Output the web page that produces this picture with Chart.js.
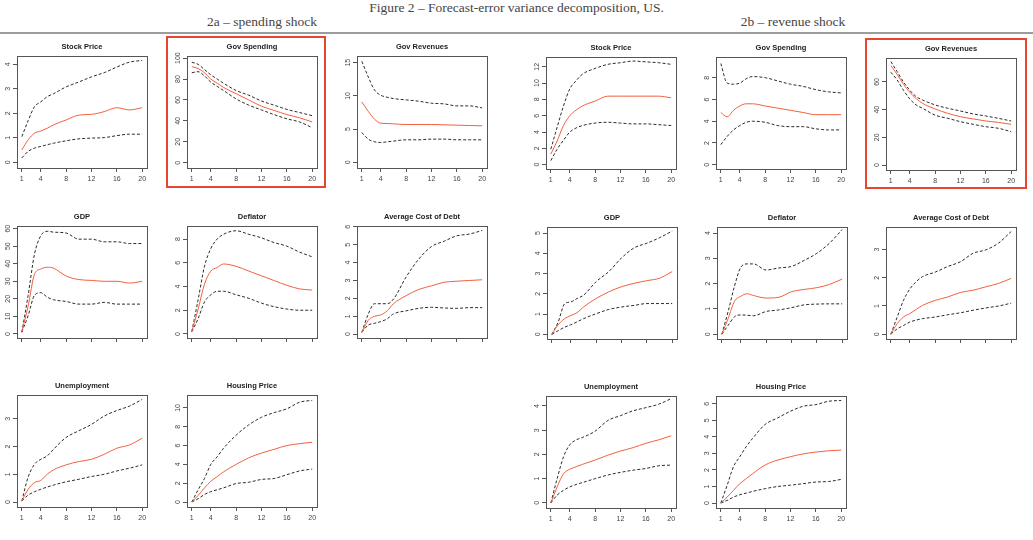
<!DOCTYPE html>
<html>
<head>
<meta charset="utf-8">
<script src="https://cdn.jsdelivr.net/npm/chart.js@4.4.1/dist/chart.umd.min.js"></script>
<style>
  body { margin: 0; background: #fff; width: 1033px; height: 540px; position: relative; overflow: hidden;
         font-family: "Liberation Serif", "Times New Roman", serif; color: #444; }
  .hd { position: absolute; text-align: center; font-size: 13.5px; line-height: 14px; white-space: nowrap; }
  #rule { position: absolute; left: 0; top: 32px; width: 1033px; height: 2px; background: #9c9c9c; }
  canvas { position: absolute; }
  .frame { position: absolute; border: 2px solid #e8452f; box-sizing: border-box; }
</style>
</head>
<body>
<div class="hd" style="left:0;width:1033px;top:1px">Figure 2 – Forecast-error variance decomposition, US.</div>
<div class="hd" style="left:162px;width:200px;top:15px">2a – spending shock</div>
<div class="hd" style="left:693px;width:200px;top:15px">2b – revenue shock</div>
<div id="rule"></div>
<div id="panels"></div>
<div class="frame" style="left:166px;top:36px;width:160px;height:152px"></div>
<div class="frame" style="left:865px;top:38px;width:162px;height:151px"></div>

<script>
// horizons (quarters) where values were read, and x tick labels
const horizons = [1, 2, 3, 4, 5, 6, 8, 10, 12, 14, 16, 18, 20];
const xTicks = [1, 4, 8, 12, 16, 20];

// ---- 2a spending shock ----
const aStockHi  = [1.05, 1.7, 2.27, 2.47, 2.68, 2.8, 3.08, 3.28, 3.49, 3.66, 3.89, 4.09, 4.16];
const aStockMid = [0.51, 0.92, 1.19, 1.28, 1.39, 1.53, 1.73, 1.93, 1.96, 2.07, 2.23, 2.14, 2.23];
const aStockLo  = [0.18, 0.45, 0.58, 0.65, 0.72, 0.78, 0.88, 0.96, 0.99, 1.01, 1.09, 1.15, 1.15];
const aStockTicks = [0, 1, 2, 3, 4];

const aSpendHi  = [96, 94, 89, 84, 80, 76, 69, 64.5, 59, 55, 51, 48, 45];
const aSpendMid = [91.8, 90, 86, 80, 76, 72, 66, 60, 54, 50, 46, 43, 39];
const aSpendLo  = [86, 87, 83, 77, 73, 69, 61, 55, 50.5, 46, 42, 39, 33.5];
const aSpendTicks = [0, 20, 40, 60, 80, 100];

const aRevHi  = [15.2, 12.9, 10.9, 10.1, 9.8, 9.6, 9.4, 9.2, 8.9, 8.8, 8.5, 8.5, 8.2];
const aRevMid = [9.1, 7.7, 6.5, 5.9, 5.85, 5.8, 5.7, 5.7, 5.7, 5.65, 5.6, 5.55, 5.5];
const aRevLo  = [4.5, 3.5, 3.1, 3.0, 3.1, 3.2, 3.4, 3.4, 3.5, 3.5, 3.4, 3.4, 3.4];
const aRevTicks = [0, 5, 10, 15];

const aGdpHi  = [1, 22, 45.5, 56, 58.5, 58, 57.5, 54, 54, 52.5, 52.5, 51.5, 51.5];
const aGdpMid = [1, 16, 34, 37, 38, 37.5, 33, 31, 30.5, 30, 30, 29, 30];
const aGdpLo  = [1, 10.5, 22, 23.5, 21, 19.5, 18.5, 17, 17, 18, 17, 17, 17];
const aGdpTicks = [0, 10, 20, 30, 40, 50, 60];

const aDefHi  = [0.2, 2.9, 5.7, 7.2, 8.0, 8.4, 8.7, 8.4, 8.1, 7.7, 7.4, 6.9, 6.5];
const aDefMid = [0.2, 2.1, 4.2, 5.3, 5.6, 5.9, 5.7, 5.3, 4.9, 4.5, 4.1, 3.8, 3.7];
const aDefLo  = [0.2, 1.3, 2.7, 3.3, 3.6, 3.6, 3.3, 3.0, 2.6, 2.3, 2.1, 2.0, 2.0];
const aDefTicks = [0, 2, 4, 6, 8];

const aDebtHi  = [0.1, 1.1, 1.7, 1.7, 1.7, 1.96, 3.2, 4.2, 4.9, 5.2, 5.5, 5.6, 5.8];
const aDebtMid = [0.1, 0.76, 1.0, 1.07, 1.3, 1.7, 2.15, 2.5, 2.7, 2.9, 2.96, 3.0, 3.04];
const aDebtLo  = [0.1, 0.5, 0.6, 0.7, 0.85, 1.13, 1.3, 1.44, 1.5, 1.46, 1.44, 1.48, 1.48];
const aDebtTicks = [0, 1, 2, 3, 4, 5, 6];

const aUnempHi  = [0.04, 0.9, 1.36, 1.54, 1.66, 1.9, 2.33, 2.57, 2.8, 3.1, 3.3, 3.46, 3.7];
const aUnempMid = [0.04, 0.46, 0.7, 0.78, 1.0, 1.16, 1.34, 1.46, 1.54, 1.72, 1.94, 2.06, 2.3];
const aUnempLo  = [0.04, 0.25, 0.37, 0.46, 0.54, 0.61, 0.73, 0.82, 0.92, 1.0, 1.12, 1.22, 1.34];
const aUnempTicks = [0, 1, 2, 3];

const aHouseHi  = [0, 1.3, 2.5, 4.0, 4.8, 5.7, 7.1, 8.2, 9.0, 9.5, 9.9, 10.6, 10.8];
const aHouseMid = [0, 0.7, 1.5, 2.2, 2.7, 3.2, 4.0, 4.7, 5.2, 5.6, 6.0, 6.2, 6.35];
const aHouseLo  = [0, 0.35, 0.8, 1.1, 1.3, 1.5, 1.96, 2.1, 2.4, 2.5, 2.9, 3.3, 3.5];
const aHouseTicks = [0, 2, 4, 6, 8, 10];

// ---- 2b revenue shock ----
const bStockHi  = [1.9, 4.6, 7.2, 9.3, 10.3, 11.1, 11.8, 12.3, 12.5, 12.7, 12.6, 12.5, 12.3];
const bStockMid = [1.3, 2.9, 4.8, 6.0, 6.7, 7.2, 7.8, 8.4, 8.4, 8.4, 8.4, 8.4, 8.2];
const bStockLo  = [0.5, 1.9, 3.0, 4.0, 4.5, 4.8, 5.1, 5.2, 5.1, 5.0, 5.0, 4.9, 4.8];
const bStockTicks = [0, 2, 4, 6, 8, 10, 12];

const bSpendHi  = [9.3, 7.5, 7.4, 7.5, 7.9, 8.1, 8.0, 7.7, 7.4, 7.2, 6.9, 6.7, 6.6];
const bSpendMid = [4.8, 4.4, 5.0, 5.4, 5.6, 5.6, 5.4, 5.2, 5.0, 4.8, 4.6, 4.6, 4.6];
const bSpendLo  = [1.85, 2.6, 3.2, 3.6, 3.9, 4.0, 3.9, 3.6, 3.5, 3.5, 3.3, 3.2, 3.2];
const bSpendTicks = [0, 2, 4, 6, 8];

const bRevHi  = [74.7, 67.5, 60, 54, 49.4, 47, 43.4, 41, 39, 36.9, 35.4, 33.7, 31.8];
const bRevMid = [71.8, 65.5, 58.3, 52.5, 48, 44.6, 40.5, 37.3, 34.9, 33.3, 31.8, 30.8, 29.4];
const bRevLo  = [67, 61.4, 54, 47.7, 43.4, 41, 36, 33.7, 31.3, 29.4, 27.7, 26.5, 24.1];
const bRevTicks = [0, 20, 40, 60];

const bGdpHi  = [0, 0.6, 1.5, 1.6, 1.77, 1.93, 2.6, 3.1, 3.77, 4.27, 4.5, 4.77, 5.1];
const bGdpMid = [0, 0.47, 0.77, 0.93, 1.07, 1.35, 1.77, 2.1, 2.35, 2.52, 2.65, 2.77, 3.1];
const bGdpLo  = [0, 0.18, 0.35, 0.47, 0.62, 0.77, 1.02, 1.23, 1.35, 1.43, 1.52, 1.52, 1.52];
const bGdpTicks = [0, 1, 2, 3, 4, 5];

const bDefHi  = [0, 0.9, 1.9, 2.65, 2.78, 2.78, 2.54, 2.62, 2.68, 2.92, 3.2, 3.6, 4.14];
const bDefMid = [0, 0.62, 1.3, 1.5, 1.6, 1.53, 1.43, 1.46, 1.68, 1.77, 1.84, 1.97, 2.18];
const bDefLo  = [0, 0.35, 0.69, 0.76, 0.75, 0.73, 0.9, 0.96, 1.05, 1.16, 1.19, 1.2, 1.2];
const bDefTicks = [0, 1, 2, 3, 4];

const bDebtHi  = [0, 0.6, 1.2, 1.6, 1.86, 2.04, 2.2, 2.4, 2.57, 2.87, 2.99, 3.23, 3.64];
const bDebtMid = [0, 0.37, 0.61, 0.73, 0.88, 1.02, 1.2, 1.32, 1.48, 1.56, 1.68, 1.8, 1.98];
const bDebtLo  = [0, 0.19, 0.31, 0.43, 0.5, 0.55, 0.61, 0.69, 0.76, 0.85, 0.93, 1.0, 1.1];
const bDebtTicks = [0, 1, 2, 3];

const bUnempHi  = [0, 1.0, 1.9, 2.4, 2.6, 2.7, 2.96, 3.4, 3.6, 3.8, 3.93, 4.07, 4.3];
const bUnempMid = [0, 0.66, 1.2, 1.39, 1.49, 1.59, 1.77, 1.97, 2.14, 2.28, 2.46, 2.6, 2.77];
const bUnempLo  = [0, 0.32, 0.52, 0.66, 0.76, 0.84, 1.0, 1.15, 1.26, 1.35, 1.42, 1.53, 1.56];
const bUnempTicks = [0, 1, 2, 3, 4];

const bHouseHi  = [0, 1.07, 2.2, 2.8, 3.4, 3.9, 4.75, 5.15, 5.55, 5.85, 5.95, 6.15, 6.2];
const bHouseMid = [0, 0.36, 0.77, 1.17, 1.47, 1.77, 2.3, 2.6, 2.8, 2.97, 3.08, 3.16, 3.2];
const bHouseLo  = [0, 0.16, 0.36, 0.5, 0.6, 0.7, 0.87, 1.0, 1.08, 1.17, 1.27, 1.3, 1.43];
const bHouseTicks = [0, 1, 2, 3, 4, 5, 6];

// panel list: data refs + where each plot box sits on the page
const panels = [
  { title: 'Stock Price', hi: aStockHi, mid: aStockMid, lo: aStockLo, ticks: aStockTicks, yMin: -0.23, yMax: 4.34, left: 17, top: 56, xLabels: true },
  { title: 'Gov Spending', hi: aSpendHi, mid: aSpendMid, lo: aSpendLo, ticks: aSpendTicks, yMin: -5, yMax: 102, left: 187, top: 56, xLabels: true },
  { title: 'Gov Revenues', hi: aRevHi, mid: aRevMid, lo: aRevLo, ticks: aRevTicks, yMin: -0.84, yMax: 16, left: 357, top: 56, xLabels: true },
  { title: 'GDP', hi: aGdpHi, mid: aGdpMid, lo: aGdpLo, ticks: aGdpTicks, yMin: -2.3, yMax: 61.5, left: 17, top: 226, xLabels: false },
  { title: 'Deflator', hi: aDefHi, mid: aDefMid, lo: aDefLo, ticks: aDefTicks, yMin: -0.34, yMax: 9.1, left: 187, top: 226, xLabels: false },
  { title: 'Average Cost of Debt', hi: aDebtHi, mid: aDebtMid, lo: aDebtLo, ticks: aDebtTicks, yMin: -0.22, yMax: 6.05, left: 357, top: 226, xLabels: false },
  { title: 'Unemployment', hi: aUnempHi, mid: aUnempMid, lo: aUnempLo, ticks: aUnempTicks, yMin: -0.18, yMax: 3.86, left: 17, top: 395, xLabels: true },
  { title: 'Housing Price', hi: aHouseHi, mid: aHouseMid, lo: aHouseLo, ticks: aHouseTicks, yMin: -0.53, yMax: 11.37, left: 187, top: 395, xLabels: true },

  { title: 'Stock Price', hi: bStockHi, mid: bStockMid, lo: bStockLo, ticks: bStockTicks, yMin: -0.53, yMax: 13.2, left: 546, top: 57, xLabels: true },
  { title: 'Gov Spending', hi: bSpendHi, mid: bSpendMid, lo: bSpendLo, ticks: bSpendTicks, yMin: -0.39, yMax: 9.9, left: 716, top: 57, xLabels: true },
  { title: 'Gov Revenues', hi: bRevHi, mid: bRevMid, lo: bRevLo, ticks: bRevTicks, yMin: -3.6, yMax: 77.3, left: 886, top: 58, xLabels: true },
  { title: 'GDP', hi: bGdpHi, mid: bGdpMid, lo: bGdpLo, ticks: bGdpTicks, yMin: -0.23, yMax: 5.3, left: 547, top: 227, xLabels: false },
  { title: 'Deflator', hi: bDefHi, mid: bDefMid, lo: bDefLo, ticks: bDefTicks, yMin: -0.19, yMax: 4.24, left: 717, top: 227, xLabels: false },
  { title: 'Average Cost of Debt', hi: bDebtHi, mid: bDebtMid, lo: bDebtLo, ticks: bDebtTicks, yMin: -0.17, yMax: 3.8, left: 886, top: 227, xLabels: false },
  { title: 'Unemployment', hi: bUnempHi, mid: bUnempMid, lo: bUnempLo, ticks: bUnempTicks, yMin: -0.21, yMax: 4.41, left: 546, top: 396, xLabels: true },
  { title: 'Housing Price', hi: bHouseHi, mid: bHouseMid, lo: bHouseLo, ticks: bHouseTicks, yMin: -0.3, yMax: 6.47, left: 716, top: 396, xLabels: true }
];

const BOX_W = 130, BOX_H = 112, Y_AXIS_W = 22, X_AXIS_H = 22, TITLE_H = 20, PAD_R = 3;

// box around the plot region, title centred over the box, R style rotated y labels
const rStyle = {
  id: 'rStyle',
  afterDraw(chart) {
    const { ctx, chartArea: a, scales: { y } } = chart;
    ctx.save();
    ctx.strokeStyle = '#555';
    ctx.lineWidth = 1;
    ctx.strokeRect(Math.round(a.left) + 0.5, Math.round(a.top) + 0.5, Math.round(a.right - a.left), Math.round(a.bottom - a.top));

    ctx.fillStyle = '#222';
    ctx.font = 'bold 7.5px "Liberation Sans", Arial, sans-serif';
    ctx.textAlign = 'center';
    ctx.textBaseline = 'middle';
    ctx.fillText(chart.options.panelTitle, (a.left + a.right) / 2, a.top - 9.5);

    ctx.fillStyle = '#444';
    ctx.font = '7px "Liberation Sans", Arial, sans-serif';
    ctx.textBaseline = 'bottom';
    y.ticks.forEach(t => {
      ctx.save();
      ctx.translate(a.left - 5, y.getPixelForValue(t.value));
      ctx.rotate(-Math.PI / 2);
      ctx.fillText(t.label, 0, 0);
      ctx.restore();
    });
    ctx.restore();
  }
};

function toPoints(vals) {
  return horizons.map((h, i) => ({ x: h, y: vals[i] }));
}

const host = document.getElementById('panels');

panels.forEach(p => {
  const cv = document.createElement('canvas');
  cv.width = Y_AXIS_W + BOX_W + PAD_R;
  cv.height = TITLE_H + BOX_H + X_AXIS_H;
  cv.style.left = (p.left - Y_AXIS_W) + 'px';
  cv.style.top = (p.top - TITLE_H) + 'px';
  host.appendChild(cv);

  const dashed = { borderColor: '#2b2b2b', borderDash: [3, 2], borderWidth: 1 };

  new Chart(cv.getContext('2d'), {
    type: 'line',
    data: {
      datasets: [
        { data: toPoints(p.mid), borderColor: '#f2603e', borderWidth: 1 },
        Object.assign({ data: toPoints(p.hi) }, dashed),
        Object.assign({ data: toPoints(p.lo) }, dashed)
      ]
    },
    options: {
      panelTitle: p.title,
      responsive: false,
      animation: false,
      events: [],
      layout: { padding: { left: 0, right: PAD_R, top: TITLE_H, bottom: 0 } },
      elements: {
        point: { radius: 0 },
        line: { cubicInterpolationMode: 'monotone', fill: false }
      },
      plugins: {
        legend: { display: false },
        tooltip: { enabled: false },
        title: { display: false }
      },
      scales: {
        x: {
          type: 'linear',
          min: 0.24,
          max: 20.76,
          afterBuildTicks: s => { s.ticks = xTicks.map(v => ({ value: v })); },
          afterFit: s => { s.height = X_AXIS_H; },
          border: { display: false },
          grid: { drawOnChartArea: false, drawTicks: true, tickLength: 4, color: '#555' },
          ticks: {
            display: p.xLabels,
            autoSkip: false,
            maxRotation: 0,
            padding: 3,
            color: '#444',
            font: { family: '"Liberation Sans", Arial, sans-serif', size: 7 }
          }
        },
        y: {
          type: 'linear',
          min: p.yMin,
          max: p.yMax,
          afterBuildTicks: s => { s.ticks = p.ticks.map(v => ({ value: v })); },
          afterFit: s => { s.width = Y_AXIS_W; },
          border: { display: false },
          grid: { drawOnChartArea: false, drawTicks: true, tickLength: 4, color: '#555' },
          ticks: { display: false }
        }
      }
    },
    plugins: [rStyle]
  });
});
</script>
</body>
</html>
